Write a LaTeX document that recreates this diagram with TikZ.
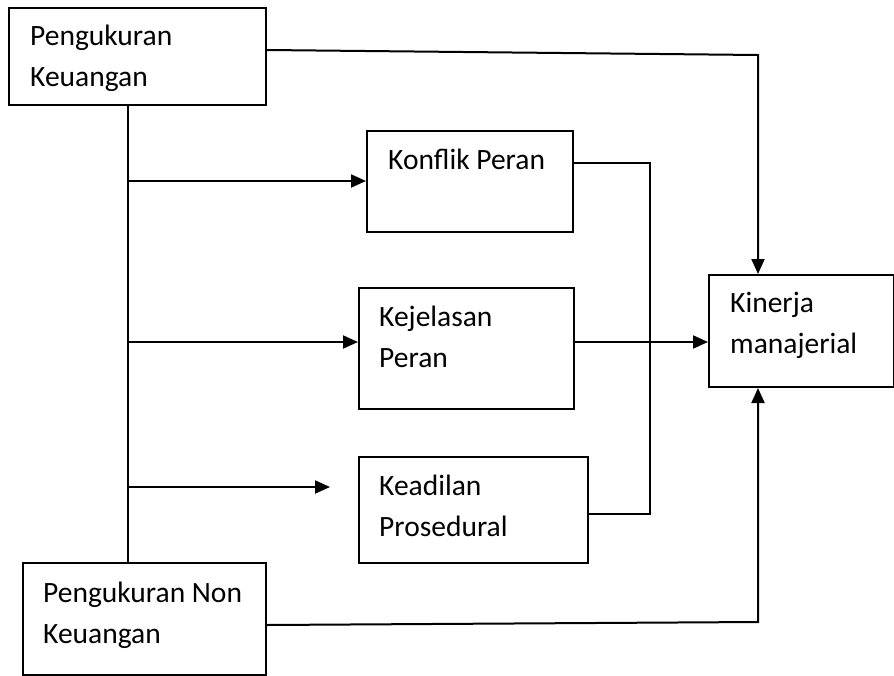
\documentclass[tikz,border=0pt]{standalone}
\usepackage{fontspec}
\setmainfont{Carlito}
\usetikzlibrary{arrows.meta}
\begin{document}
\begin{tikzpicture}[x=1pt,y=-1pt,
  box/.style={draw=black,line width=2pt,rectangle,inner sep=0pt,anchor=north west},
  lbl/.style={anchor=base west,inner sep=0pt,align=left,font=\fontsize{29.5}{41}\selectfont},
  link/.style={draw=black,line width=2pt},
  arr/.style={link,-{Triangle[length=15pt,width=13pt]}}]
  \useasboundingbox[fill=white] (0,0) rectangle (894,675);

  % boxes
  \node[box,minimum width=257pt,minimum height=97pt] (pk) at (8,7) {};
  \node[box,minimum width=243pt,minimum height=112pt] (pnk) at (22,562) {};
  \node[box,minimum width=206pt,minimum height=101pt] (kp) at (366,130) {};
  \node[box,minimum width=215pt,minimum height=121pt] (kj) at (358,287) {};
  \node[box,minimum width=229pt,minimum height=106pt] (ka) at (358,456) {};
  \node[box,minimum width=185pt,minimum height=112pt] (km) at (708,274) {};

  % texts (anchored on the baseline of their last line)
  \node[lbl] (tpk) at (30,86) {Pengukuran\\Keuangan};
  \node[lbl] (tpnk) at (43,643) {Pengukuran Non\\Keuangan};
  \node[lbl] (tkp) at (388,169) {Konflik Peran};
  \node[lbl] (tkj) at (379,367) {Kejelasan\\Peran};
  \node[lbl] (tka) at (379,536) {Keadilan\\Prosedural};
  \node[lbl] (tkm) at (730,353) {Kinerja\\manajerial};

  % branch points on the left trunk
  \coordinate (tx) at (128,0);
  \coordinate (b1) at (128,181);
  \coordinate (b2) at (128,342);
  \coordinate (b3) at (128,487);
  \coordinate (b3end) at (330,487);

  % collector on the right of the mediators
  \coordinate (c1) at (650,163);
  \coordinate (c3) at (650,514);
  \coordinate (kjout) at (0,342);

  % corners of the direct paths
  \coordinate (topL) at (0,50);
  \coordinate (topR) at (758,55);
  \coordinate (botL) at (0,625);
  \coordinate (botR) at (758,622);

  % left trunk and its branches
  \draw[link] (tx |- pk.south) -- (tx |- pnk.north);
  \draw[arr] (b1) -- (kp.west |- b1);
  \draw[arr] (b2) -- (kj.west |- b2);
  \draw[arr] (b3) -- (b3end);

  % mediators into the outcome
  \draw[link] (kp.east |- c1) -- (c1) -- (c3) -- (ka.east |- c3);
  \draw[arr] (kj.east |- kjout) -- (km.west |- kjout);

  % direct paths
  \draw[arr] (pk.east |- topL) -- (topR) -- (topR |- km.north);
  \draw[arr] (pnk.east |- botL) -- (botR) -- (botR |- km.south);
\end{tikzpicture}
\end{document}
